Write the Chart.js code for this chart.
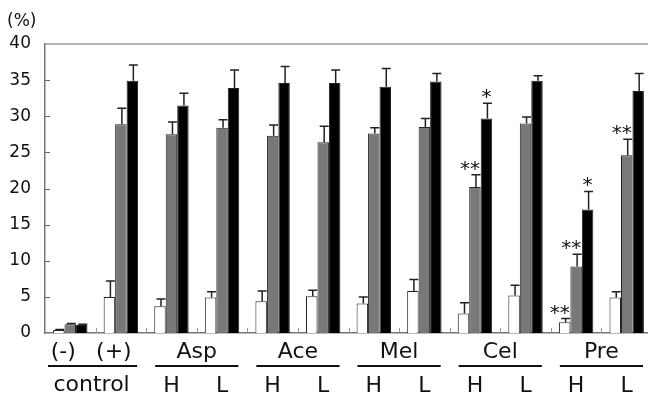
<!DOCTYPE html>
<html>
<head>
<meta charset="utf-8">
<script src="https://cdn.jsdelivr.net/npm/chart.js@4.4.0/dist/chart.umd.min.js"></script>
<style>
  html, body { margin: 0; padding: 0; overflow: hidden; background: #fff; }
</style>
</head>
<body>
<canvas id="myChart" width="656" height="396"></canvas>
<script>
// ----------- DONNEES -----------
const groupNames = ['control', 'Asp', 'Ace', 'Mel', 'Cel', 'Pre'];
const doseLabels = ['(-)', '(+)', 'H', 'L', 'H', 'L', 'H', 'L', 'H', 'L', 'H', 'L'];
const yTicks = [0, 5, 10, 15, 20, 25, 30, 35, 40];

// barres blanches
const whiteValues = [0.4, 5.0, 3.7, 4.9, 4.4, 5.1, 4.1, 5.8, 2.7, 5.2, 1.5, 4.9];
const whiteErrors = [0.1, 2.2, 1.0, 0.8, 1.4, 0.8, 0.9, 1.6, 1.5, 1.4, 0.5, 0.8];
const whiteMarks  = ['', '', '', '', '', '', '', '', '', '', '**', ''];
// barres grises
const grayValues = [1.2, 28.9, 27.5, 28.4, 27.3, 26.4, 27.6, 28.5, 20.2, 29.0, 9.2, 24.6];
const grayErrors = [0.1, 2.2, 1.7, 1.1, 1.5, 2.2, 0.8, 1.2, 1.7, 0.9, 1.7, 2.2];
const grayMarks  = ['', '', '', '', '', '', '', '', '**', '', '**', '**'];
// barres noires
const blackValues = [1.1, 34.9, 31.5, 33.9, 34.6, 34.6, 34.1, 34.8, 29.7, 34.9, 17.1, 33.5];
const blackErrors = [0.1, 2.2, 1.7, 2.5, 2.3, 1.8, 2.5, 1.1, 2.1, 0.7, 2.5, 2.4];
const blackMarks  = ['', '', '', '', '', '', '', '', '*', '', '*', ''];

const categories = doseLabels.map((d, i) => groupNames[Math.floor(i / 2)] + ' ' + d);

const series = [
  { values: whiteValues, errors: whiteErrors, marks: whiteMarks, color: '#ffffff' },
  { values: grayValues,  errors: grayErrors,  marks: grayMarks,  color: '#787878' },
  { values: blackValues, errors: blackErrors, marks: blackMarks, color: '#000000' }
];

const data = {
  labels: categories,
  datasets: series.map(s => ({
    data: s.values,
    backgroundColor: s.color,
    borderColor: '#222',
    borderWidth: 1,
    barPercentage: 1.0,
    categoryPercentage: 0.68
  }))
};

// ----- plugin : barres d'erreur, étoiles, cadre et étiquettes -----
const decorations = {
  id: 'decorations',
  afterDatasetsDraw(chart) {
    const ctx = chart.ctx;
    const xs = chart.scales.x, ys = chart.scales.y;
    const area = chart.chartArea;
    ctx.save();

    // cadre du haut
    ctx.strokeStyle = '#999';
    ctx.lineWidth = 1.5;
    ctx.beginPath();
    ctx.moveTo(area.left, area.top);
    ctx.lineTo(area.right, area.top);
    ctx.stroke();

    // graduations intérieures sur l'axe y
    ctx.strokeStyle = '#666';
    ctx.lineWidth = 1;
    yTicks.forEach(v => {
      if (v === 0 || v === 40) return;
      const py = Math.round(ys.getPixelForValue(v)) + 0.5;
      ctx.beginPath();
      ctx.moveTo(area.left, py);
      ctx.lineTo(area.left + 5, py);
      ctx.stroke();
    });

    // petites graduations entre les groupes sur l'axe x
    ctx.strokeStyle = '#999';
    for (let i = 1; i < categories.length; i++) {
      const bx = Math.round((xs.getPixelForValue(i - 1) + xs.getPixelForValue(i)) / 2) + 0.5;
      ctx.beginPath();
      ctx.moveTo(bx, area.bottom);
      ctx.lineTo(bx, area.bottom - 5);
      ctx.stroke();
    }

    // barres d'erreur et étoiles
    series.forEach((s, i) => {
      const meta = chart.getDatasetMeta(i);
      meta.data.forEach((bar, j) => {
        const top = ys.getPixelForValue(s.values[j] + s.errors[j]);
        const cx = bar.x + 1;
        ctx.strokeStyle = '#222';
        ctx.lineWidth = 1.5;
        ctx.beginPath();
        ctx.moveTo(cx, bar.y);
        ctx.lineTo(cx, top);
        ctx.moveTo(cx - 4.5, top);
        ctx.lineTo(cx + 4.5, top);
        ctx.stroke();
        const m = s.marks[j];
        if (m) {
          ctx.fillStyle = '#111';
          ctx.font = '20px "DejaVu Sans"';
          ctx.textAlign = 'center';
          ctx.textBaseline = 'alphabetic';
          ctx.fillText(m, bar.x + (m.length > 1 ? -5 : 0), top);
        }
      });
    });

    // étiquettes sous l'axe x
    ctx.fillStyle = '#111';
    ctx.font = '22px "DejaVu Sans"';
    ctx.textAlign = 'center';
    ctx.textBaseline = 'alphabetic';
    ctx.strokeStyle = '#111';
    ctx.lineWidth = 2;
    groupNames.forEach((name, g) => {
      const c0 = xs.getPixelForValue(2 * g);
      const c1 = xs.getPixelForValue(2 * g + 1);
      const half = (c1 - c0) / 2;
      const left = c0 - half + (g === 0 ? 3 : 9);
      const right = c1 + half - 9;
      ctx.beginPath();
      ctx.moveTo(left, 366);
      ctx.lineTo(right, 366);
      ctx.stroke();
      if (g === 0) {
        ctx.fillText(doseLabels[0], c0 - 7, 358);
        ctx.fillText(doseLabels[1], c1 - 7, 358);
        ctx.fillText(name, (c0 + c1) / 2 - 4, 391);
      } else {
        ctx.fillText(name, (c0 + c1) / 2, 358);
        ctx.fillText(doseLabels[2 * g], c0, 392);
        ctx.fillText(doseLabels[2 * g + 1], c1, 392);
      }
    });

    // unité
    ctx.font = '17px "DejaVu Sans"';
    ctx.textAlign = 'left';
    ctx.fillText('(%)', 7, 26);

    ctx.restore();
  }
};

const config = {
  type: 'bar',
  data,
  options: {
    responsive: false,
    animation: false,
    layout: { padding: { top: 44, right: 4, left: 0, bottom: 0 } },
    plugins: {
      legend: { display: false },
      tooltip: { enabled: false }
    },
    scales: {
      x: {
        offset: true,
        grid: { display: false, drawTicks: false },
        border: { display: true, color: '#777', width: 1.5 },
        ticks: { display: false },
        afterFit(scale) { scale.height = 63; }
      },
      y: {
        min: 0,
        max: 40,
        afterBuildTicks(scale) { scale.ticks = yTicks.map(v => ({ value: v })); },
        grid: { display: false, drawTicks: false },
        border: { display: true, color: '#777', width: 1.5 },
        ticks: {
          padding: 14,
          color: '#111',
          font: { family: 'DejaVu Sans', size: 17 }
        },
        afterFit(scale) { scale.width = 45; }
      }
    }
  },
  plugins: [decorations]
};

const myChart = new Chart(document.getElementById('myChart').getContext('2d'), config);
</script>
</body>
</html>
